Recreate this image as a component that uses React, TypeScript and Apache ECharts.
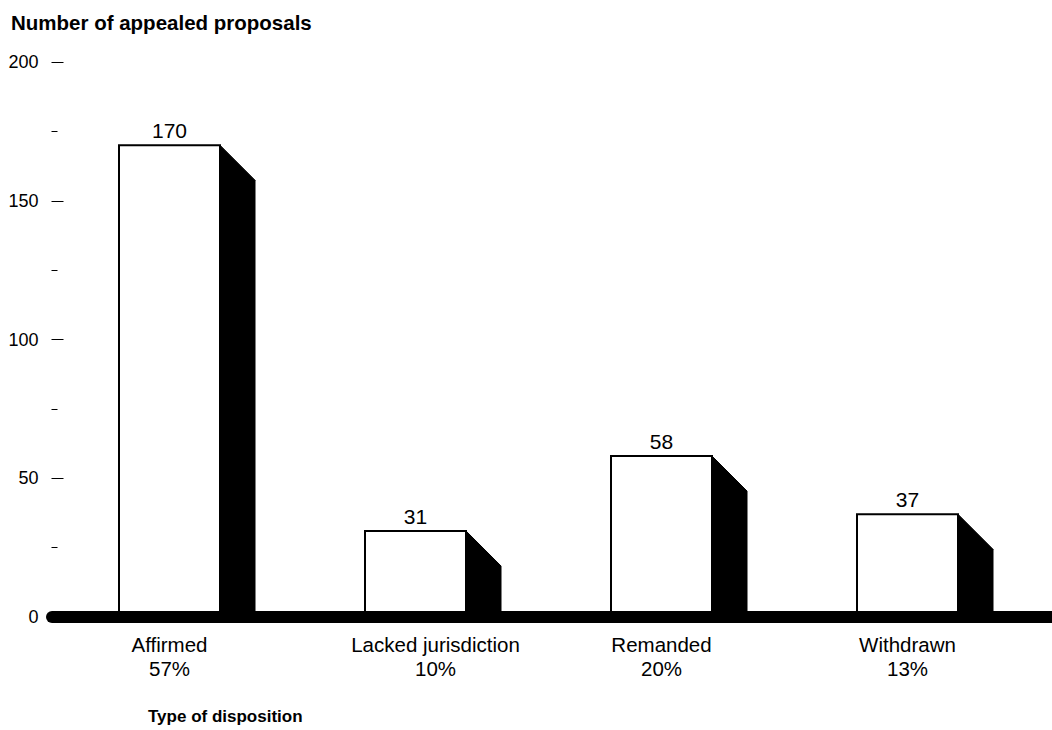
import React, { useEffect, useRef } from "react";
import * as echarts from "echarts";

const FONT = '"Liberation Sans", Arial, Helvetica, sans-serif';

const categories = ["Affirmed", "Lacked jurisdiction", "Remanded", "Withdrawn"];
const counts = [170, 31, 58, 37];
const shares = ["57%", "10%", "20%", "13%"];
const yTicks = [0, 50, 100, 150, 200];

const yTitle = "Number of appealed proposals";
const xTitle = "Type of disposition";

export default function App() {
  const ref = useRef<HTMLDivElement>(null);

  useEffect(() => {
    if (!ref.current) return;
    const chart = echarts.init(ref.current, null, { renderer: "svg" });

    const option: any = {
      animation: false,
      backgroundColor: "#ffffff",
      textStyle: { fontFamily: FONT, color: "#000" },
      title: [
        {
          text: yTitle,
          left: 6,
          top: 7,
          textStyle: { fontFamily: FONT, fontSize: 20.5, fontWeight: "bold", color: "#000" },
        },
        {
          text: xTitle,
          left: 143,
          top: 703,
          textStyle: { fontFamily: FONT, fontSize: 17, fontWeight: "bold", color: "#000" },
        },
      ],
      grid: { left: 46.5, right: 21.5, top: 62, bottom: 113, containLabel: false },
      xAxis: {
        type: "category",
        data: categories,
        boundaryGap: true,
        axisLine: { show: false },
        axisTick: {
          show: true,
          inside: true,
          length: 12,
          alignWithLabel: true,
          lineStyle: { color: "#000", width: 1 },
        },
        axisLabel: {
          interval: 0,
          margin: 15,
          color: "#000",
          fontFamily: FONT,
          fontSize: 20.5,
          lineHeight: 24,
          rich: {
            n: { fontFamily: FONT, fontSize: 20.5, lineHeight: 24, color: "#000" },
            s: {
              fontFamily: FONT,
              fontSize: 20.5,
              lineHeight: 24,
              color: "#000",
              padding: [0, 0, 0, 40],
            },
          },
          // the long second label sits a little right of its bar
          formatter: (val: string, idx: number) => {
            const tag = idx === 1 ? "s" : "n";
            return `{${tag}|${val}}\n{${tag}|${shares[idx]}}`;
          },
        },
      },
      yAxis: {
        type: "value",
        min: yTicks[0],
        max: yTicks[yTicks.length - 1],
        interval: 50,
        offset: -5,
        axisLine: { show: false },
        splitLine: { show: false },
        axisTick: { show: true, inside: true, length: 12, lineStyle: { color: "#000", width: 1 } },
        minorTick: { show: true, splitNumber: 2, length: 6, lineStyle: { color: "#000", width: 1 } },
        axisLabel: { color: "#000", fontFamily: FONT, fontSize: 18, margin: 13 },
      },
      series: [
        {
          type: "custom",
          data: counts.map((v, i) => [i, v]),
          encode: { x: 0, y: 1 },
          clip: false,
          renderItem: (params: any, api: any) => {
            const idx = api.value(0);
            const val = api.value(1);
            const top = api.coord([idx, val]);
            const base = api.coord([idx, 0]);
            const band = api.size([1, 0])[0];
            const bw = band * (101 / 246);
            const depth = bw * (35 / 101);
            const left = top[0] - bw / 2;
            const right = top[0] + bw / 2;
            return {
              type: "group",
              children: [
                {
                  type: "polygon",
                  shape: {
                    points: [
                      [right, top[1]],
                      [right + depth, top[1] + depth],
                      [right + depth, base[1]],
                      [right, base[1]],
                    ],
                  },
                  style: { fill: "#000", stroke: "#000", lineWidth: 1 },
                },
                {
                  type: "rect",
                  shape: { x: left, y: top[1], width: bw, height: base[1] - top[1] },
                  style: { fill: "#fff", stroke: "#000", lineWidth: 2 },
                },
                {
                  type: "text",
                  x: top[0],
                  y: top[1] - 4,
                  style: {
                    text: String(val),
                    fill: "#000",
                    font: `21px ${FONT}`,
                    align: "center",
                    verticalAlign: "bottom",
                  },
                },
              ],
            };
          },
        },
      ],
    };

    chart.setOption(option);

    // Heavy zero line drawn across the plot, positioned from the value scale
    const y0 = chart.convertToPixel({ yAxisIndex: 0 }, 0) as number;
    chart.setOption({
      graphic: [
        {
          type: "line",
          z: 10,
          shape: { x1: 52, y1: y0, x2: 1070, y2: y0 },
          style: { stroke: "#000", lineWidth: 12, lineCap: "round" },
        },
      ],
    });

    return () => chart.dispose();
  }, []);

  return (
    <div
      ref={ref}
      style={{ position: "absolute", left: 0, top: 0, width: 1052, height: 730 }}
    />
  );
}
